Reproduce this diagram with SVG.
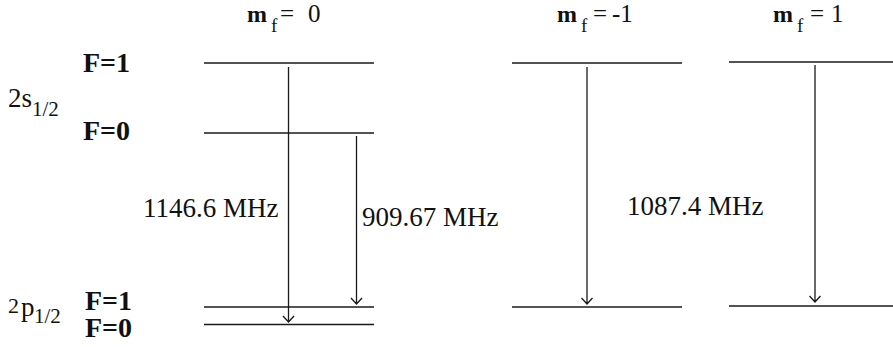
<svg xmlns="http://www.w3.org/2000/svg" width="893" height="347" viewBox="0 0 893 347" font-family="Liberation Serif, Times New Roman, serif">
<defs>
<style>
.lv{stroke:#1a1a1a;stroke-width:1.5;fill:none}
.ar{stroke:#1a1a1a;stroke-width:1.3;fill:none}
text{font-family:'Liberation Serif','Times New Roman',serif;fill:#111}
.F{font-size:28px;font-weight:bold}
.fq{font-size:27px}
.m{font-size:24px;font-weight:bold}
.sub{font-size:19px}
.eq{font-size:25px}
</style>
</defs>
<rect width="893" height="347" fill="#fff"/>
<g id="labels-mf">
<g id="mf0"><text class="m" x="247" y="22">m</text><text class="sub" x="271" y="32">f</text><text class="eq" x="280" y="22">=</text><text class="eq" x="308" y="22">0</text></g>
<g id="mfm1"><text class="m" x="557" y="22">m</text><text class="sub" x="581" y="32">f</text><text class="eq" x="593" y="22">=</text><text class="eq" x="612" y="22">-1</text></g>
<g id="mfp1"><text class="m" x="773" y="22">m</text><text class="sub" x="797" y="32">f</text><text class="eq" x="810" y="22">=</text><text class="eq" x="831" y="22">1</text></g>
</g>
<g id="state-2s">
<text x="8" y="107" font-size="27">2s</text>
<text x="32" y="116" font-size="21">1/2</text>
</g>
<g id="state-2p">
<text x="8" y="313" font-size="22">2</text>
<text x="21" y="316" font-size="27">p</text>
<text x="34" y="323" font-size="21">1/2</text>
</g>
<g id="F-labels">
<text class="F" x="83" y="72">F=1</text>
<text class="F" x="83" y="140">F=0</text>
<text class="F" x="85" y="310">F=1</text>
<text class="F" x="85" y="337">F=0</text>
</g>
<g id="levels">
<g id="lvl-0-2s-F1"><line class="lv" x1="204" y1="63" x2="374" y2="63"/></g>
<g id="lvl-0-2s-F0"><line class="lv" x1="204" y1="133" x2="374" y2="133"/></g>
<g id="lvl-0-2p-F1"><line class="lv" x1="204" y1="307" x2="374" y2="307"/></g>
<g id="lvl-0-2p-F0"><line class="lv" x1="204" y1="324.5" x2="374" y2="324.5"/></g>
<g id="lvl-m1-2s"><line class="lv" x1="512" y1="63" x2="682" y2="63"/></g>
<g id="lvl-m1-2p"><line class="lv" x1="512" y1="307" x2="682" y2="307"/></g>
<g id="lvl-p1-2s"><line class="lv" x1="729" y1="62" x2="893" y2="62"/></g>
<g id="lvl-p1-2p"><line class="lv" x1="729" y1="306" x2="893" y2="306"/></g>
</g>
<g id="connectors">
<path class="ar" d="M288.5 67V322M283 316l5.5 6 5.5-6"/>
<path class="ar" d="M356.5 136V304M351 298l5.5 6 5.5-6"/>
<path class="ar" d="M587 67V304M581.5 298l5.5 6 5.5-6"/>
<path class="ar" d="M815 65V302M809.5 296l5.5 6 5.5-6"/>
</g>
<g id="freq-labels">
<text class="fq" x="143" y="217">1146.6 MHz</text>
<text class="fq" x="362" y="226">909.67 MHz</text>
<text class="fq" x="627" y="215">1087.4 MHz</text>
</g>
</svg>
